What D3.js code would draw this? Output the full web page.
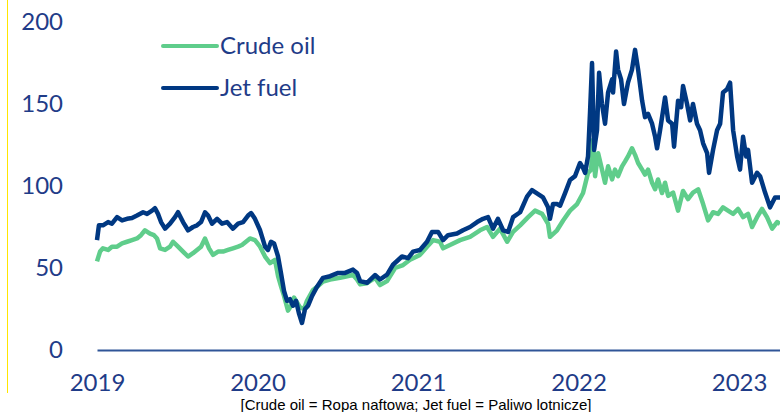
<!doctype html>
<html>
<head>
<meta charset="UTF-8">
<script src="https://d3js.org/d3.v7.min.js"></script>
<style type="text/css">
body { margin: 0; background: #fff; }
svg { display: block; }
.axis text { font-family: Lato, "Open Sans", sans-serif; font-size: 24px; fill: #1f3c88; }
.legend text { font-family: Lato, "Open Sans", sans-serif; font-size: 24px; fill: #1f3c88; }
.note { font-family: "Liberation Sans Narrow", "Liberation Sans", sans-serif; font-size: 15px; fill: #000; }
</style>
</head>
<body>
<script>
// time is in years since 1 Jan 2019, values in USD/bbl
var startYear = 2019;
var yearTicks = [0, 1, 2, 3, 4];
var valueTicks = [0, 50, 100, 150, 200];

var jetT = [0, .012, .037, .069, .093, .125, .156, .187, .218, .249, .287, .312, .343, .361, .380, .399, .424, .455, .486, .505,
  .536, .567, .598, .623, .648, .673, .692, .717, .748, .779, .810, .847, .879, .910, .941, .960, .984,
  1.016, 1.047, 1.065, 1.084, 1.103, 1.128, 1.146, 1.165, 1.184, 1.202, 1.221, 1.240, 1.259, 1.277, 1.296, 1.315, 1.340,
  1.371, 1.408, 1.452, 1.502, 1.545, 1.595, 1.620, 1.639, 1.682, 1.732, 1.763, 1.807, 1.844, 1.900, 1.938, 1.969,
  2.012, 2.056, 2.087, 2.125, 2.156, 2.187, 2.243, 2.280, 2.324, 2.368, 2.405, 2.436, 2.467, 2.498, 2.530, 2.561, 2.592,
  2.636, 2.679, 2.710, 2.748, 2.779, 2.810, 2.822, 2.841, 2.866, 2.885, 2.916, 2.947, 2.978,
  3.009, 3.028, 3.041, 3.059, 3.072, 3.084, 3.097, 3.115, 3.128, 3.146, 3.165, 3.184, 3.209, 3.215, 3.234, 3.246, 3.265,
  3.283, 3.308, 3.333, 3.352, 3.371, 3.396, 3.414, 3.433, 3.458, 3.477, 3.489, 3.508, 3.539, 3.558, 3.583, 3.595, 3.620,
  3.639, 3.651, 3.676, 3.695, 3.713, 3.738, 3.757, 3.776, 3.801, 3.813, 3.838, 3.863, 3.882, 3.900, 3.925, 3.944, 3.963, 3.988,
  4.006, 4.025, 4.044, 4.056, 4.081, 4.112, 4.131, 4.162, 4.193, 4.224, 4.255];
var jetFuel = [67, 76, 76, 78, 77, 81, 79, 80, 80.5, 82, 84, 83, 85, 86.5, 83, 78, 74, 77, 81, 84,
  78, 73, 75, 76, 78, 84, 82, 77, 80, 77, 78, 74, 77, 78, 82, 83.5, 80,
  73, 63, 61, 66, 65, 57, 47, 36, 30, 31, 27, 30, 22, 16.5, 25, 27, 33,
  38.6, 44, 45, 47, 47, 49, 47, 42, 41, 45.7, 43, 46, 52, 57, 56, 60,
  61, 66, 72, 72, 67, 70, 71, 73, 75, 78, 80, 81, 74, 80, 73, 72, 81,
  84, 93.5, 97.5, 95, 93, 87, 80, 89, 89, 88, 95.7, 103.7, 106,
  114, 111, 108, 118, 146, 175, 122, 134, 169, 150, 138, 157, 165, 157, 182, 171, 165,
  150, 163, 171, 183, 171, 152, 142, 144, 138, 130, 123, 134, 154, 140, 138, 124, 152,
  148, 161, 150, 140, 150, 138, 134, 126, 120, 108, 122, 134, 138, 157, 159, 163, 134, 118,
  110, 130, 118, 122, 102, 108, 106, 96, 87, 93, 93];

var crudeT = [0, .019, .037, .069, .093, .125, .156, .187, .218, .249, .274, .299, .330, .355, .374, .393, .424, .455, .474, .505,
  .536, .567, .598, .623, .648, .673, .698, .723, .754, .785, .816, .847, .879, .903, .928, .953, .984,
  1.016, 1.047, 1.078, 1.109, 1.128, 1.146, 1.165, 1.190, 1.209, 1.227, 1.246, 1.265, 1.290, 1.308, 1.346, 1.377,
  1.408, 1.452, 1.514, 1.558, 1.595, 1.620, 1.639, 1.682, 1.732, 1.763, 1.807, 1.857, 1.907, 1.950,
  2.012, 2.056, 2.094, 2.137, 2.156, 2.199, 2.262, 2.324, 2.386, 2.430, 2.467, 2.511, 2.555, 2.592, 2.636, 2.686,
  2.729, 2.773, 2.810, 2.822, 2.866, 2.904, 2.947, 2.991,
  3.028, 3.059, 3.078, 3.090, 3.103, 3.122, 3.146, 3.165, 3.184, 3.209, 3.227, 3.246, 3.271, 3.290, 3.308, 3.333,
  3.352, 3.371, 3.396, 3.414, 3.433, 3.458, 3.477, 3.495, 3.520, 3.539, 3.558, 3.589, 3.620, 3.651, 3.682, 3.713,
  3.745, 3.776, 3.807, 3.838, 3.869, 3.900, 3.931, 3.963, 3.994,
  4.025, 4.056, 4.081, 4.112, 4.143, 4.174, 4.206, 4.237, 4.255];
var crudeOil = [54, 60, 62, 61, 63, 63, 65, 66, 67, 68, 70, 73, 71, 70, 68, 62, 61, 63, 66, 63,
  60, 57, 59, 61, 63, 68, 62, 58, 60, 60, 61, 62, 63, 64, 66, 68, 67,
  63, 57, 53, 55, 45, 39, 33, 24, 27, 32, 29, 26, 25, 30, 36.6, 39,
  41.7, 43, 44, 45, 45.7, 43, 40, 40.7, 44, 39.6, 42, 50, 51.8, 55,
  58, 63, 67, 66, 62, 64, 67, 69, 73, 75, 69, 74, 66, 72, 76, 81,
  85, 83, 77, 69, 73, 79, 85, 89,
  95.7, 108, 110, 128, 106, 120, 110, 102, 112, 104, 110, 106, 112, 115, 118, 123,
  119, 114, 110, 107, 110, 102, 98, 104, 95.7, 102, 94, 96, 85, 97, 92, 96,
  98, 89, 79, 84, 83, 87, 85, 83, 86,
  81, 83, 75, 81, 86, 81, 74, 78, 77];

var seriesNames = ["Crude oil", "Jet fuel"];
var seriesColors = ["#5fcd8b", "#003882"];
var note = "[Crude oil = Ropa naftowa; Jet fuel = Paliwo lotnicze]";

var w = 780;
var h = 412;

var canvas = d3.select("body").append("svg")
  .attr("width", w)
  .attr("height", h);

// thin yellow rule on the left edge
canvas.append("line")
  .attr("x1", 7.5).attr("x2", 7.5)
  .attr("y1", 0).attr("y2", 393)
  .attr("stroke", "#ffe600")
  .attr("stroke-width", 1);

var x = d3.scaleLinear()
  .domain([0, 4.255])
  .range([97, 780]);

var y = d3.scaleLinear()
  .domain([0, 200])
  .range([350, 22]);

// y labels, no axis line
var yAxis = canvas.append("g")
  .attr("class", "axis")
  .attr("transform", "translate(63,0)")
  .call(d3.axisLeft(y).tickValues(valueTicks).tickSize(0).tickPadding(0));
yAxis.select(".domain").remove();

var line = d3.line()
  .x(function(d) { return x(d[0]); })
  .y(function(d) { return y(d[1]); });

var crude = d3.zip(crudeT, crudeOil);
var jet = d3.zip(jetT, jetFuel);

canvas.append("path")
  .datum(crude)
  .attr("d", line)
  .attr("fill", "none")
  .attr("stroke", seriesColors[0])
  .attr("stroke-width", 4.5)
  .attr("stroke-linejoin", "round");

canvas.append("path")
  .datum(jet)
  .attr("d", line)
  .attr("fill", "none")
  .attr("stroke", seriesColors[1])
  .attr("stroke-width", 4.5)
  .attr("stroke-linejoin", "round");

// x axis sits on the zero line
var xAxis = canvas.append("g")
  .attr("class", "axis")
  .attr("transform", "translate(0," + y(0) + ")")
  .call(d3.axisBottom(x).tickValues(yearTicks).tickSize(0).tickPadding(24)
    .tickFormat(function(d) { return startYear + d; }));
xAxis.select(".domain")
  .attr("stroke", "#2f5597")
  .attr("stroke-width", 2);

// legend
var legend = canvas.append("g").attr("class", "legend");
seriesNames.forEach(function(name, i) {
  var ly = 46 + i * 42;
  legend.append("line")
    .attr("x1", 163).attr("x2", 217)
    .attr("y1", ly).attr("y2", ly)
    .attr("stroke", seriesColors[i])
    .attr("stroke-width", 4)
    .attr("stroke-linecap", "round");
  legend.append("text")
    .attr("x", 220)
    .attr("y", ly)
    .attr("dy", "0.35em")
    .text(name);
});

canvas.append("text")
  .attr("class", "note")
  .attr("x", 416)
  .attr("y", 410)
  .attr("text-anchor", "middle")
  .text(note);
</script>
</body>
</html>
